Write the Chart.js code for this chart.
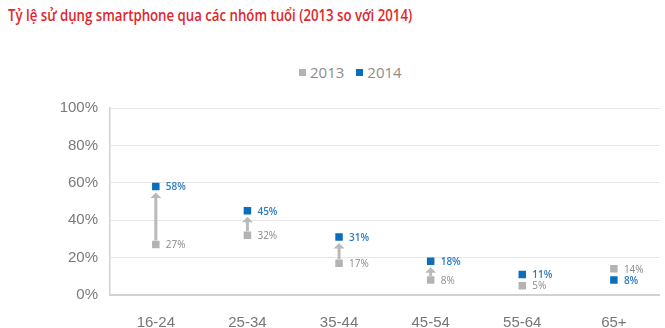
<!DOCTYPE html>
<html>
<head>
<meta charset="utf-8">
<script src="https://cdn.jsdelivr.net/npm/chart.js@4/dist/chart.umd.min.js"></script>
<style>
  body { margin: 0; background: #fff; }
  #wrap { position: relative; width: 665px; height: 328px; overflow: hidden; }
  #title { position: absolute; left: 8px; top: 4px; font: 600 16px "Open Sans"; color: #e1262b; white-space: nowrap; transform-origin: 0 0; }
  #legend { position: absolute; left: 299px; top: 62px; font: 15px/20px "Open Sans"; color: #8c8c8c; display: flex; align-items: center; }
  #legend .item { display: flex; align-items: center; margin-right: 12px; }
  #legend .box { width: 7px; height: 7px; margin-right: 4px; }
  canvas { position: absolute; left: 0; top: 0; }
</style>
</head>
<body>
<div id="wrap">
  <div id="title">Tỷ lệ sử dụng smartphone qua các nhóm tuổi (2013 so với 2014)</div>
  <div id="legend"></div>
  <canvas id="myChart" width="665" height="328"></canvas>
</div>
<script>
const ageGroups = ['16-24', '25-34', '35-44', '45-54', '55-64', '65+']
const usage2013 = [27, 32, 17, 8, 5, 14]
const usage2014 = [58, 45, 31, 18, 11, 8]
const yTicks = [0, 20, 40, 60, 80, 100]

const grey = '#b3b3b3'
const blue = '#0b6ebd'

// squeeze the heading into its narrow width
const title = document.getElementById('title')
title.style.transform = 'scaleX(' + (404 / title.offsetWidth) + ')'

const datasets = [
  { label: '2013', data: usage2013, backgroundColor: grey, textColor: '#8a8a8a', bold: false },
  { label: '2014', data: usage2014, backgroundColor: blue, textColor: '#2b7bc4', bold: true }
]

// legend row
const legend = document.getElementById('legend')
datasets.forEach(function(ds) {
  const item = document.createElement('span')
  item.className = 'item'
  item.innerHTML = '<span class="box" style="background:' + ds.backgroundColor + '"></span>' + ds.label
  legend.appendChild(item)
})

// arrow from the 2013 mark up to the 2014 mark
const arrows = {
  id: 'arrows',
  beforeDatasetsDraw(chart) {
    const ctx = chart.ctx
    const x = chart.scales.x, y = chart.scales.y
    const half = 4
    ctx.save()
    ctx.fillStyle = '#bababa'
    ctx.strokeStyle = '#bababa'
    ctx.lineWidth = 3
    for (let i = 0; i < ageGroups.length; i++) {
      const px = x.getPixelForValue(i)
      const from = y.getPixelForValue(usage2013[i]) - half
      const to = y.getPixelForValue(usage2014[i]) + half + 2
      if (from - to < 8) continue
      ctx.beginPath()
      ctx.moveTo(px, from)
      ctx.lineTo(px, to + 4)
      ctx.stroke()
      ctx.beginPath()
      ctx.moveTo(px, to)
      ctx.lineTo(px - 5.5, to + 5.5)
      ctx.lineTo(px + 5.5, to + 5.5)
      ctx.closePath()
      ctx.fill()
    }
    ctx.restore()
  }
}

// percentage text beside each mark
const valueLabels = {
  id: 'valueLabels',
  afterDatasetsDraw(chart) {
    const ctx = chart.ctx
    ctx.save()
    ctx.textBaseline = 'middle'
    chart.data.datasets.forEach(function(ds, d) {
      const meta = chart.getDatasetMeta(d)
      ctx.fillStyle = ds.textColor
      ctx.font = (ds.bold ? '600 ' : '') + '10px "Open Sans"'
      meta.data.forEach(function(pt, i) {
        ctx.fillText(ds.data[i] + '%', pt.x + 10, pt.y + 1)
      })
    })
    ctx.restore()
  }
}

const config = {
  type: 'line',
  data: {
    labels: ageGroups,
    datasets: datasets.map(function(ds) {
      return Object.assign({}, ds, {
        showLine: false,
        pointStyle: 'rect',
        pointRadius: 5.3,
        pointHoverRadius: 5.3,
        pointBackgroundColor: ds.backgroundColor,
        pointBorderWidth: 0
      })
    })
  },
  options: {
    responsive: false,
    animation: false,
    events: [],
    layout: { padding: { top: 108, right: 2, left: 0, bottom: 0 } },
    plugins: {
      legend: { display: false },
      tooltip: { enabled: false }
    },
    scales: {
      x: {
        offset: true,
        grid: { display: false },
        border: { display: true, color: '#d2d2d2', width: 2 },
        ticks: { color: '#777', padding: 11, font: { family: 'Liberation Sans', size: 15 } },
        afterFit: function(s) { s.height = 33 }
      },
      y: {
        min: 0,
        max: 100,
        afterBuildTicks: function(s) { s.ticks = yTicks.map(function(v) { return { value: v } }) },
        grid: { color: '#e6e6e6', drawTicks: false },
        border: { display: true, color: '#d2d2d2', width: 1.5 },
        ticks: {
          color: '#7a7a7a',
          padding: 12,
          font: { family: 'Liberation Sans', size: 15 },
          callback: function(v) { return v + '%' }
        },
        afterFit: function(s) { s.width = 110 }
      }
    }
  },
  plugins: [arrows, valueLabels]
}

var chart = new Chart(document.getElementById('myChart'), config)
</script>
</body>
</html>
